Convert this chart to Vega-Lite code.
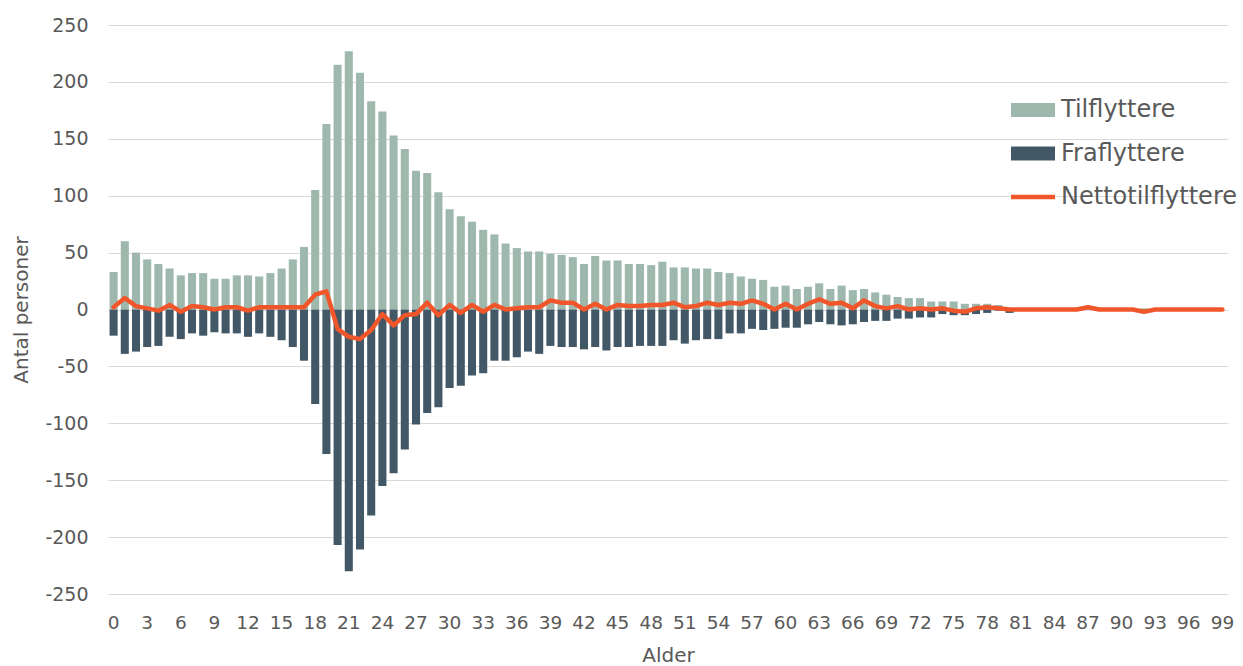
{
  "$schema": "https://vega.github.io/schema/vega-lite/v6.json",
  "width": 1120,
  "height": 569,
  "autosize": {"type": "none"},
  "padding": {"left": 108, "top": 25, "right": 15, "bottom": 72},
  "background": "white",
  "config": {
    "font": "DejaVu Sans",
    "view": {"stroke": null},
    "axis": {
      "labelColor": "#595959",
      "titleColor": "#595959",
      "labelFontSize": 18.5,
      "titleFontSize": 20,
      "titleFontWeight": "normal",
      "domain": false,
      "ticks": false,
      "tickSize": 0,
      "gridColor": "#d9d9d9",
      "gridWidth": 1.2
    }
  },
  "data": {
    "values": [
      {"alder": 0, "Tilflyttere": 33, "Fraflyttere": -23, "Nettotilflyttere": 2},
      {"alder": 1, "Tilflyttere": 60, "Fraflyttere": -39, "Nettotilflyttere": 10},
      {"alder": 2, "Tilflyttere": 50, "Fraflyttere": -37, "Nettotilflyttere": 3},
      {"alder": 3, "Tilflyttere": 44, "Fraflyttere": -33, "Nettotilflyttere": 1},
      {"alder": 4, "Tilflyttere": 40, "Fraflyttere": -32, "Nettotilflyttere": -1},
      {"alder": 5, "Tilflyttere": 36, "Fraflyttere": -24, "Nettotilflyttere": 4},
      {"alder": 6, "Tilflyttere": 30, "Fraflyttere": -26, "Nettotilflyttere": -2},
      {"alder": 7, "Tilflyttere": 32, "Fraflyttere": -21, "Nettotilflyttere": 3},
      {"alder": 8, "Tilflyttere": 32, "Fraflyttere": -23, "Nettotilflyttere": 2},
      {"alder": 9, "Tilflyttere": 27, "Fraflyttere": -20, "Nettotilflyttere": 0},
      {"alder": 10, "Tilflyttere": 27, "Fraflyttere": -21, "Nettotilflyttere": 2},
      {"alder": 11, "Tilflyttere": 30, "Fraflyttere": -21, "Nettotilflyttere": 2},
      {"alder": 12, "Tilflyttere": 30, "Fraflyttere": -24, "Nettotilflyttere": -1},
      {"alder": 13, "Tilflyttere": 29, "Fraflyttere": -21, "Nettotilflyttere": 2},
      {"alder": 14, "Tilflyttere": 32, "Fraflyttere": -24, "Nettotilflyttere": 2},
      {"alder": 15, "Tilflyttere": 36, "Fraflyttere": -27, "Nettotilflyttere": 2},
      {"alder": 16, "Tilflyttere": 44, "Fraflyttere": -33, "Nettotilflyttere": 2},
      {"alder": 17, "Tilflyttere": 55, "Fraflyttere": -45, "Nettotilflyttere": 2},
      {"alder": 18, "Tilflyttere": 105, "Fraflyttere": -83, "Nettotilflyttere": 13},
      {"alder": 19, "Tilflyttere": 163, "Fraflyttere": -127, "Nettotilflyttere": 16},
      {"alder": 20, "Tilflyttere": 215, "Fraflyttere": -207, "Nettotilflyttere": -17},
      {"alder": 21, "Tilflyttere": 227, "Fraflyttere": -230, "Nettotilflyttere": -24},
      {"alder": 22, "Tilflyttere": 208, "Fraflyttere": -211, "Nettotilflyttere": -26},
      {"alder": 23, "Tilflyttere": 183, "Fraflyttere": -181, "Nettotilflyttere": -18},
      {"alder": 24, "Tilflyttere": 174, "Fraflyttere": -155, "Nettotilflyttere": -4},
      {"alder": 25, "Tilflyttere": 153, "Fraflyttere": -144, "Nettotilflyttere": -14},
      {"alder": 26, "Tilflyttere": 141, "Fraflyttere": -123, "Nettotilflyttere": -5},
      {"alder": 27, "Tilflyttere": 122, "Fraflyttere": -101, "Nettotilflyttere": -4},
      {"alder": 28, "Tilflyttere": 120, "Fraflyttere": -91, "Nettotilflyttere": 6},
      {"alder": 29, "Tilflyttere": 103, "Fraflyttere": -86, "Nettotilflyttere": -5},
      {"alder": 30, "Tilflyttere": 88, "Fraflyttere": -69, "Nettotilflyttere": 4},
      {"alder": 31, "Tilflyttere": 82, "Fraflyttere": -67, "Nettotilflyttere": -3},
      {"alder": 32, "Tilflyttere": 77, "Fraflyttere": -58, "Nettotilflyttere": 4},
      {"alder": 33, "Tilflyttere": 70, "Fraflyttere": -56, "Nettotilflyttere": -2},
      {"alder": 34, "Tilflyttere": 66, "Fraflyttere": -45, "Nettotilflyttere": 4},
      {"alder": 35, "Tilflyttere": 58, "Fraflyttere": -45, "Nettotilflyttere": 0},
      {"alder": 36, "Tilflyttere": 54, "Fraflyttere": -42, "Nettotilflyttere": 1},
      {"alder": 37, "Tilflyttere": 51, "Fraflyttere": -37, "Nettotilflyttere": 2},
      {"alder": 38, "Tilflyttere": 51, "Fraflyttere": -39, "Nettotilflyttere": 2},
      {"alder": 39, "Tilflyttere": 49, "Fraflyttere": -32, "Nettotilflyttere": 8},
      {"alder": 40, "Tilflyttere": 48, "Fraflyttere": -33, "Nettotilflyttere": 6},
      {"alder": 41, "Tilflyttere": 46, "Fraflyttere": -33, "Nettotilflyttere": 6},
      {"alder": 42, "Tilflyttere": 40, "Fraflyttere": -35, "Nettotilflyttere": 0},
      {"alder": 43, "Tilflyttere": 47, "Fraflyttere": -33, "Nettotilflyttere": 5},
      {"alder": 44, "Tilflyttere": 43, "Fraflyttere": -36, "Nettotilflyttere": 0},
      {"alder": 45, "Tilflyttere": 43, "Fraflyttere": -33, "Nettotilflyttere": 4},
      {"alder": 46, "Tilflyttere": 40, "Fraflyttere": -33, "Nettotilflyttere": 3},
      {"alder": 47, "Tilflyttere": 40, "Fraflyttere": -32, "Nettotilflyttere": 3},
      {"alder": 48, "Tilflyttere": 39, "Fraflyttere": -32, "Nettotilflyttere": 4},
      {"alder": 49, "Tilflyttere": 42, "Fraflyttere": -32, "Nettotilflyttere": 4},
      {"alder": 50, "Tilflyttere": 37, "Fraflyttere": -27, "Nettotilflyttere": 6},
      {"alder": 51, "Tilflyttere": 37, "Fraflyttere": -30, "Nettotilflyttere": 2},
      {"alder": 52, "Tilflyttere": 36, "Fraflyttere": -27, "Nettotilflyttere": 3},
      {"alder": 53, "Tilflyttere": 36, "Fraflyttere": -26, "Nettotilflyttere": 6},
      {"alder": 54, "Tilflyttere": 33, "Fraflyttere": -26, "Nettotilflyttere": 4},
      {"alder": 55, "Tilflyttere": 32, "Fraflyttere": -21, "Nettotilflyttere": 6},
      {"alder": 56, "Tilflyttere": 29, "Fraflyttere": -21, "Nettotilflyttere": 5},
      {"alder": 57, "Tilflyttere": 27, "Fraflyttere": -17, "Nettotilflyttere": 8},
      {"alder": 58, "Tilflyttere": 26, "Fraflyttere": -18, "Nettotilflyttere": 5},
      {"alder": 59, "Tilflyttere": 20, "Fraflyttere": -17, "Nettotilflyttere": 0},
      {"alder": 60, "Tilflyttere": 21, "Fraflyttere": -16, "Nettotilflyttere": 5},
      {"alder": 61, "Tilflyttere": 18, "Fraflyttere": -16, "Nettotilflyttere": 0},
      {"alder": 62, "Tilflyttere": 20, "Fraflyttere": -13, "Nettotilflyttere": 5},
      {"alder": 63, "Tilflyttere": 23, "Fraflyttere": -11, "Nettotilflyttere": 9},
      {"alder": 64, "Tilflyttere": 18, "Fraflyttere": -13, "Nettotilflyttere": 5},
      {"alder": 65, "Tilflyttere": 21, "Fraflyttere": -14, "Nettotilflyttere": 6},
      {"alder": 66, "Tilflyttere": 17, "Fraflyttere": -13, "Nettotilflyttere": 1},
      {"alder": 67, "Tilflyttere": 18, "Fraflyttere": -11, "Nettotilflyttere": 8},
      {"alder": 68, "Tilflyttere": 15, "Fraflyttere": -10, "Nettotilflyttere": 3},
      {"alder": 69, "Tilflyttere": 13, "Fraflyttere": -10, "Nettotilflyttere": 1},
      {"alder": 70, "Tilflyttere": 11, "Fraflyttere": -8, "Nettotilflyttere": 3},
      {"alder": 71, "Tilflyttere": 10, "Fraflyttere": -8, "Nettotilflyttere": 0},
      {"alder": 72, "Tilflyttere": 10, "Fraflyttere": -7, "Nettotilflyttere": 1},
      {"alder": 73, "Tilflyttere": 7, "Fraflyttere": -7, "Nettotilflyttere": 0},
      {"alder": 74, "Tilflyttere": 7, "Fraflyttere": -4, "Nettotilflyttere": 1},
      {"alder": 75, "Tilflyttere": 7, "Fraflyttere": -5, "Nettotilflyttere": -1},
      {"alder": 76, "Tilflyttere": 5, "Fraflyttere": -5, "Nettotilflyttere": -2},
      {"alder": 77, "Tilflyttere": 5, "Fraflyttere": -4, "Nettotilflyttere": 1},
      {"alder": 78, "Tilflyttere": 5, "Fraflyttere": -3, "Nettotilflyttere": 2},
      {"alder": 79, "Tilflyttere": 4, "Fraflyttere": -1, "Nettotilflyttere": 1},
      {"alder": 80, "Tilflyttere": 1, "Fraflyttere": -3, "Nettotilflyttere": 0},
      {"alder": 81, "Tilflyttere": 0, "Fraflyttere": 0, "Nettotilflyttere": 0},
      {"alder": 82, "Tilflyttere": 0, "Fraflyttere": 0, "Nettotilflyttere": 0},
      {"alder": 83, "Tilflyttere": 0, "Fraflyttere": 0, "Nettotilflyttere": 0},
      {"alder": 84, "Tilflyttere": 0, "Fraflyttere": 0, "Nettotilflyttere": 0},
      {"alder": 85, "Tilflyttere": 0, "Fraflyttere": 0, "Nettotilflyttere": 0},
      {"alder": 86, "Tilflyttere": 0, "Fraflyttere": 0, "Nettotilflyttere": 0},
      {"alder": 87, "Tilflyttere": 2, "Fraflyttere": 0, "Nettotilflyttere": 2},
      {"alder": 88, "Tilflyttere": 0, "Fraflyttere": 0, "Nettotilflyttere": 0},
      {"alder": 89, "Tilflyttere": 0, "Fraflyttere": 0, "Nettotilflyttere": 0},
      {"alder": 90, "Tilflyttere": 0, "Fraflyttere": 0, "Nettotilflyttere": 0},
      {"alder": 91, "Tilflyttere": 0, "Fraflyttere": 0, "Nettotilflyttere": 0},
      {"alder": 92, "Tilflyttere": 1, "Fraflyttere": -3, "Nettotilflyttere": -2},
      {"alder": 93, "Tilflyttere": 0, "Fraflyttere": 0, "Nettotilflyttere": 0},
      {"alder": 94, "Tilflyttere": 0, "Fraflyttere": 0, "Nettotilflyttere": 0},
      {"alder": 95, "Tilflyttere": 0, "Fraflyttere": 0, "Nettotilflyttere": 0},
      {"alder": 96, "Tilflyttere": 0, "Fraflyttere": 0, "Nettotilflyttere": 0},
      {"alder": 97, "Tilflyttere": 0, "Fraflyttere": 0, "Nettotilflyttere": 0},
      {"alder": 98, "Tilflyttere": 0, "Fraflyttere": 0, "Nettotilflyttere": 0},
      {"alder": 99, "Tilflyttere": 0, "Fraflyttere": 0, "Nettotilflyttere": 0}
    ]
  },
  "transform": [
    {"fold": ["Tilflyttere", "Fraflyttere", "Nettotilflyttere"], "as": ["serie", "antal"]}
  ],
  "encoding": {
    "x": {
      "field": "alder",
      "type": "ordinal",
      "sort": "ascending",
      "scale": {"paddingInner": 0.28, "paddingOuter": 0.14},
      "axis": {
        "title": "Alder",
        "values": [0, 3, 6, 9, 12, 15, 18, 21, 24, 27, 30, 33, 36, 39, 42, 45, 48, 51, 54, 57, 60, 63, 66, 69, 72, 75, 78, 81, 84, 87, 90, 93, 96, 99],
        "labelAngle": 0,
        "labelPadding": 19,
        "titlePadding": 14,
        "grid": false
      }
    },
    "y": {
      "field": "antal",
      "type": "quantitative",
      "stack": null,
      "scale": {"domain": [-250, 250], "nice": false},
      "axis": {
        "title": "Antal personer",
        "values": [-250, -200, -150, -100, -50, 0, 50, 100, 150, 200, 250],
        "labelExpr": "replace(datum.label, '\u2212', '-')",
        "labelFontSize": 19,
        "grid": true,
        "labelPadding": 20,
        "titlePadding": 13
      }
    },
    "color": {
      "field": "serie",
      "type": "nominal",
      "scale": {
        "domain": ["Tilflyttere", "Fraflyttere", "Nettotilflyttere"],
        "range": ["#9EB8AE", "#435866", "#F0562A"]
      },
      "legend": {
        "title": null,
        "orient": "none",
        "legendX": 913,
        "legendY": 73,
        "padding": 0,
        "rowPadding": 19.5,
        "labelFontSize": 24,
        "labelColor": "#595959",
        "labelOffset": 16,
        "symbolSize": 1936,
        "labelLimit": 400,
        "encode": {
          "symbols": {
            "update": {
              "shape": {"signal": "datum.label === 'Nettotilflyttere' ? 'M-1,0H1' : 'M-1,-0.32H1V0.32H-1Z'"},
              "fill": {"signal": "datum.label === 'Nettotilflyttere' ? 'transparent' : scale('color', datum.value)"},
              "stroke": {"signal": "scale('color', datum.value)"},
              "strokeWidth": {"signal": "datum.label === 'Nettotilflyttere' ? 4.5 : 0"},
              "size": {"value": 1936},
              "opacity": {"value": 1}
            }
          }
        }
      }
    }
  },
  "layer": [
    {
      "transform": [{"filter": "datum.serie !== 'Nettotilflyttere'"}],
      "mark": {"type": "bar"}
    },
    {
      "transform": [{"filter": "datum.serie === 'Nettotilflyttere'"}],
      "mark": {"type": "line", "strokeWidth": 4.5, "strokeJoin": "round", "strokeCap": "round"}
    }
  ]
}
